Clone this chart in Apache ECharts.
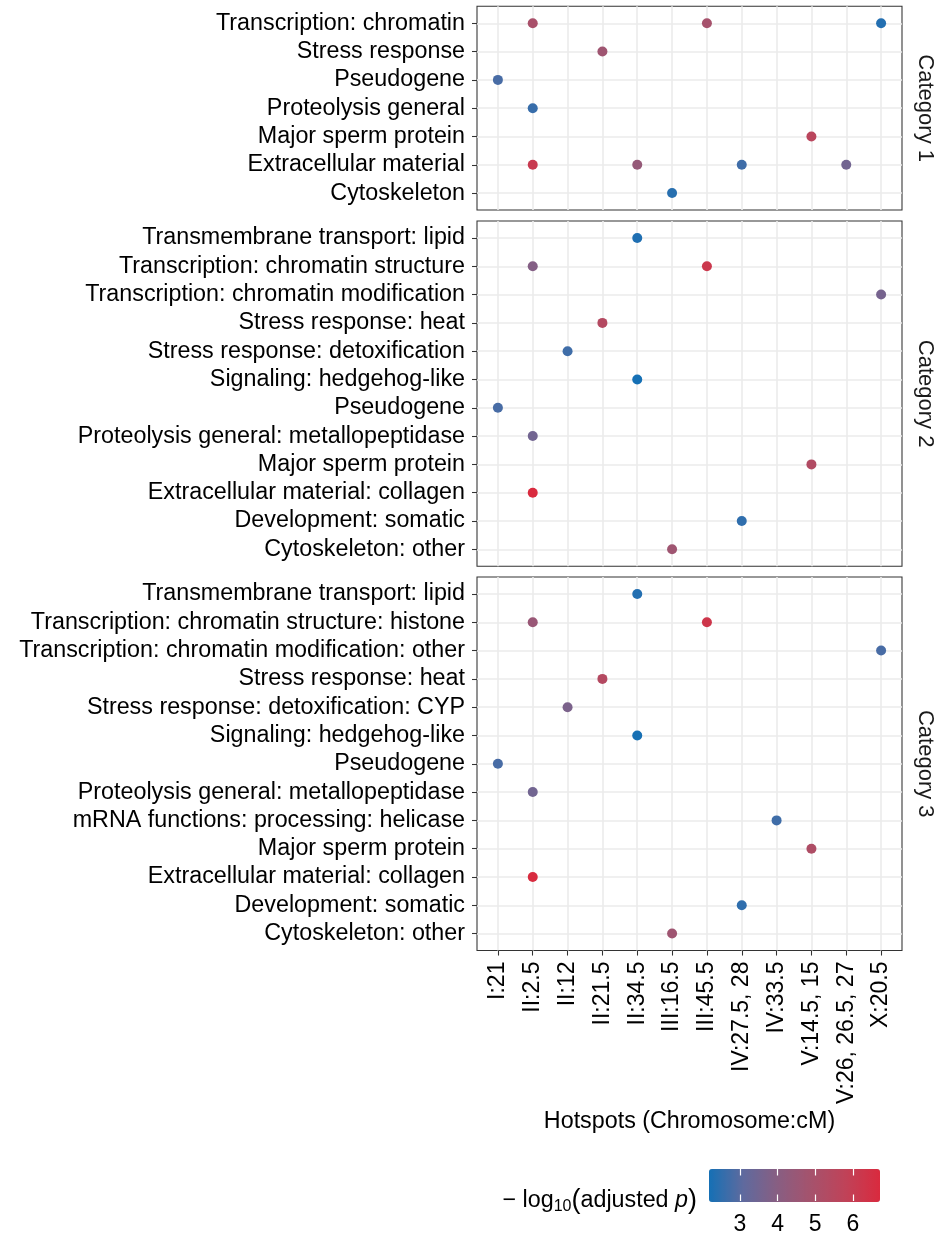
<!DOCTYPE html>
<html><head><meta charset="utf-8">
<script src="https://cdn.jsdelivr.net/npm/echarts@6/dist/echarts.min.js"></script>
<style>html,body{margin:0;padding:0;background:#fff}#c{width:937px;height:1236px}</style>
</head><body><div id="c"></div>
<script>
// ---------- data ----------
const hotspots = ['I:21','II:2.5','II:12','II:21.5','II:34.5','III:16.5','III:45.5','IV:27.5, 28','IV:33.5','V:14.5, 15','V:26, 26.5, 27','X:20.5'];
const panelNames = ['Category 1','Category 2','Category 3'];

// terms listed top to bottom
const terms1 = ['Transcription: chromatin','Stress response','Pseudogene','Proteolysis general','Major sperm protein','Extracellular material','Cytoskeleton'];
const points1 = [
  ['II:2.5','Transcription: chromatin',5.0],
  ['III:45.5','Transcription: chromatin',4.9],
  ['X:20.5','Transcription: chromatin',2.35],
  ['II:21.5','Stress response',4.7],
  ['I:21','Pseudogene',2.8],
  ['II:2.5','Proteolysis general',2.6],
  ['V:14.5, 15','Major sperm protein',5.6],
  ['II:2.5','Extracellular material',6.1],
  ['II:34.5','Extracellular material',4.4],
  ['IV:27.5, 28','Extracellular material',2.7],
  ['V:26, 26.5, 27','Extracellular material',3.5],
  ['III:16.5','Cytoskeleton',2.4]
];

const terms2 = ['Transmembrane transport: lipid','Transcription: chromatin structure','Transcription: chromatin modification','Stress response: heat','Stress response: detoxification','Signaling: hedgehog-like','Pseudogene','Proteolysis general: metallopeptidase','Major sperm protein','Extracellular material: collagen','Development: somatic','Cytoskeleton: other'];
const points2 = [
  ['II:34.5','Transmembrane transport: lipid',2.3],
  ['II:2.5','Transcription: chromatin structure',3.9],
  ['III:45.5','Transcription: chromatin structure',6.2],
  ['X:20.5','Transcription: chromatin modification',3.6],
  ['II:21.5','Stress response: heat',5.4],
  ['II:12','Stress response: detoxification',2.7],
  ['II:34.5','Signaling: hedgehog-like',2.18],
  ['I:21','Pseudogene',2.8],
  ['II:2.5','Proteolysis general: metallopeptidase',3.5],
  ['V:14.5, 15','Major sperm protein',5.3],
  ['II:2.5','Extracellular material: collagen',6.72],
  ['IV:27.5, 28','Development: somatic',2.5],
  ['III:16.5','Cytoskeleton: other',4.7]
];

const terms3 = ['Transmembrane transport: lipid','Transcription: chromatin structure: histone','Transcription: chromatin modification: other','Stress response: heat','Stress response: detoxification: CYP','Signaling: hedgehog-like','Pseudogene','Proteolysis general: metallopeptidase','mRNA functions: processing: helicase','Major sperm protein','Extracellular material: collagen','Development: somatic','Cytoskeleton: other'];
const points3 = [
  ['II:34.5','Transmembrane transport: lipid',2.35],
  ['II:2.5','Transcription: chromatin structure: histone',4.5],
  ['III:45.5','Transcription: chromatin structure: histone',6.3],
  ['X:20.5','Transcription: chromatin modification: other',2.8],
  ['II:21.5','Stress response: heat',5.4],
  ['II:12','Stress response: detoxification: CYP',3.7],
  ['II:34.5','Signaling: hedgehog-like',2.2],
  ['I:21','Pseudogene',2.8],
  ['II:2.5','Proteolysis general: metallopeptidase',3.5],
  ['IV:33.5','mRNA functions: processing: helicase',2.7],
  ['V:14.5, 15','Major sperm protein',5.2],
  ['II:2.5','Extracellular material: collagen',6.7],
  ['IV:27.5, 28','Development: somatic',2.5],
  ['III:16.5','Cytoskeleton: other',4.7]
];

const legendTicks = [3,4,5,6];
const xTitle = 'Hotspots (Chromosome:cM)';

// ---------- layout / style ----------
const FONT = '"Liberation Sans", Arial, Helvetica, sans-serif';
const FS = 23.3;
const STEP_Y = 28.3;
const panelTops = [6.3, 221, 577];
const gridLeft = 477, gridWidth = 427;
const GRIDLINE = {color: '#ebebeb', width: 1.6};
const termsList = [terms1, terms2, terms3];
const pointsList = [points1, points2, points3];
const allVals = pointsList.flat().map(p => p[2]);
const vMin = Math.min(...allVals), vMax = Math.max(...allVals);
const xIdx = hotspots.map((_, i) => i);

const grids = [], xAxes = [], yAxesL = [], yAxesR = [], series = [];
panelTops.forEach((top, i) => {
  const terms = termsList[i];
  const yIdx = terms.map((_, k) => k);
  grids.push({left: gridLeft, width: gridWidth, top: top, height: (terms.length + 0.2) * STEP_Y,
    show: true, borderColor: '#333', borderWidth: 1.07, backgroundColor: '#fff'});
  const bottom = i === panelTops.length - 1;
  xAxes.push({
    gridIndex: i, type: 'value', position: 'bottom', min: -0.6, max: hotspots.length - 0.4,
    axisLine: {show: false, onZero: false},
    axisTick: {show: bottom, customValues: xIdx, length: 5, lineStyle: {color: '#333', width: 1.07}},
    axisLabel: {show: bottom, customValues: xIdx, rotate: 90, margin: 11,
      formatter: v => hotspots[Math.round(v)], color: '#000', fontSize: 23, fontFamily: FONT},
    splitLine: {show: true, lineStyle: GRIDLINE},
    name: bottom ? xTitle : '', nameLocation: 'middle', nameGap: 160,
    nameTextStyle: {color: '#000', fontSize: FS, fontFamily: FONT}
  });
  yAxesL.push({
    gridIndex: i, type: 'value', position: 'left', inverse: true, min: -0.6, max: terms.length - 0.4,
    axisLine: {show: false, onZero: false},
    axisTick: {show: true, customValues: yIdx, length: 5, lineStyle: {color: '#333', width: 1.07}},
    axisLabel: {customValues: yIdx, margin: 12, formatter: v => terms[Math.round(v)],
      color: '#000', fontSize: FS, fontFamily: FONT},
    splitLine: {show: true, lineStyle: GRIDLINE}
  });
  yAxesR.push({
    gridIndex: i, type: 'value', position: 'right', min: 0, max: 1,
    axisLine: {show: false, onZero: false}, axisTick: {show: false}, axisLabel: {show: false}, splitLine: {show: false},
    name: panelNames[i], nameLocation: 'middle', nameRotate: -90, nameGap: 12,
    nameTextStyle: {color: '#1a1a1a', fontSize: 22, fontFamily: FONT}
  });
  series.push({
    type: 'scatter', xAxisIndex: i, yAxisIndex: i, symbolSize: 10,
    itemStyle: {opacity: 1},
    data: pointsList[i].map(p => [hotspots.indexOf(p[0]), terms.indexOf(p[1]), p[2]])
  });
});

// legend colour-bar axis grid
grids.push({left: 709, top: 1169, width: 171, height: 33, show: false});
const lgIdx = grids.length - 1;
xAxes.push({
  gridIndex: lgIdx, type: 'value', position: 'bottom', min: vMin, max: vMax, z: 10,
  axisLine: {show: false, onZero: false},
  axisTick: {show: true, inside: true, customValues: legendTicks, length: 6.5, lineStyle: {color: '#fff', width: 1.2}},
  axisLabel: {customValues: legendTicks, margin: 12, color: '#000', fontSize: 23, fontFamily: FONT},
  splitLine: {show: false}
});
xAxes.push({
  gridIndex: lgIdx, type: 'value', position: 'top', min: vMin, max: vMax, z: 10,
  axisLine: {show: false, onZero: false},
  axisTick: {show: true, inside: true, customValues: legendTicks, length: 6.5, lineStyle: {color: '#fff', width: 1.2}},
  axisLabel: {show: false}, splitLine: {show: false}
});
const yAxes = yAxesL.concat(yAxesR);
yAxes.push({gridIndex: lgIdx, type: 'value', show: false});

const option = {
  backgroundColor: '#fff',
  animation: false,
  grid: grids,
  xAxis: xAxes,
  yAxis: yAxes,
  visualMap: {
    type: 'continuous', min: vMin, max: vMax, seriesIndex: [0, 1, 2], dimension: 2,
    orient: 'horizontal', left: 709, top: 1169, itemWidth: 33, itemHeight: 171,
    padding: 0, calculable: false, hoverLink: false, z: 2,
    inRange: {color: ['#1570b5', '#5f6a9e', '#885e82', '#a6526c', '#c04258', '#d92a3e']}
  },
  graphic: [{
    type: 'text', x: 697, y: 1201,
    style: {
      text: '{a|−}{a| log}{s|10}{p|(}{a|adjusted }{i|p}{p|)}',
      align: 'right', verticalAlign: 'middle',
      rich: {
        a: {fontSize: 23.3, fontFamily: FONT, fill: '#000'},
        s: {fontSize: 16, fontFamily: FONT, fill: '#000', padding: [12, 0, 0, 0]},
        p: {fontSize: 27, fontFamily: FONT, fill: '#000'},
        i: {fontSize: 23.3, fontFamily: FONT, fontStyle: 'italic', fill: '#000'}
      }
    }
  }],
  series: series
};
const chart = echarts.init(document.getElementById('c'), null, {renderer: 'canvas'});
chart.setOption(option);
</script>
</body></html>
